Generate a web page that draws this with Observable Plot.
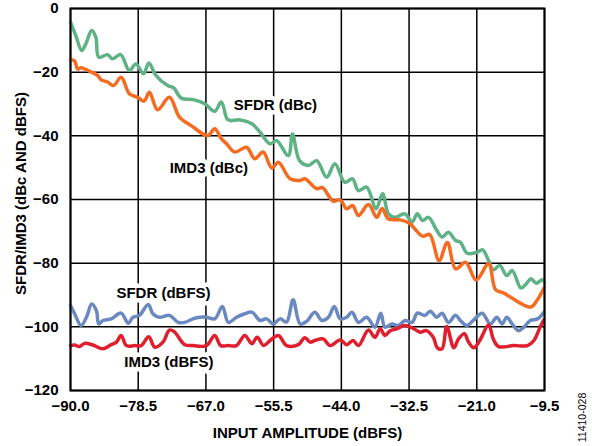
<!DOCTYPE html>
<html>
<head>
<meta charset="utf-8">
<script src="https://cdn.jsdelivr.net/npm/d3@7"></script>
<script src="https://cdn.jsdelivr.net/npm/@observablehq/plot@0.6"></script>
<style>
  html, body { margin: 0; padding: 0; background: #fff; }
</style>
</head>
<body>
<div id="chart"></div>
<script>
const xTicks = [-90, -78.5, -67, -55.5, -44, -32.5, -21, -9.5];
const yTicks = [-120, -100, -80, -60, -40, -20, 0];

const sfdrDbcX = [-90,-89.1,-88.1,-87.4,-86.4,-85.7,-85.2,-83.7,-82.9,-81.5,-80,-78.9,-77.6,-76.7,-75.5,-73.5,-72.5,-71.2,-69,-67.2,-65.5,-64.4,-63.4,-62.9,-61.2,-59.2,-57.8,-56.1,-55,-53,-52.3,-51.1,-49.6,-48.2,-46.5,-45.1,-43.4,-42.1,-41.1,-39.7,-38.1,-37,-36,-34.9,-33.2,-32,-31.1,-30.2,-29.2,-27.8,-26.9,-25.8,-24.6,-23.8,-22.6,-21,-20,-19,-18.2,-17.1,-15.9,-15,-13.5,-12.6,-11.8,-10.9,-9.9,-9.5];
const sfdrDbcY = [-4.3,-8.5,-13.2,-11.1,-6.9,-9,-15.3,-14.5,-15.8,-14.5,-19.5,-17.4,-20.5,-17.1,-21,-24.2,-24.9,-28.1,-28.7,-29.9,-32.3,-29.4,-34.7,-35.2,-35,-36.2,-38.9,-42.5,-41.5,-46.2,-39.4,-47.8,-49.3,-47.8,-53,-48.8,-54.6,-53.5,-57.2,-56.1,-62.9,-58.2,-64.5,-65.6,-64.5,-67.1,-64.5,-66.6,-65.6,-69.7,-71.8,-70.3,-72.9,-73.4,-76.9,-76.6,-75.8,-79.2,-82.1,-80.7,-83.9,-82.3,-87.8,-86.5,-84.9,-86.3,-85.2,-86];

const imd3DbcX = [-90,-89.3,-88.8,-88.2,-86.8,-85.4,-84.8,-83.7,-82.7,-81.4,-80,-78.6,-77.5,-76.6,-75.2,-73.2,-71.5,-69.5,-66.7,-65.5,-64.4,-63.5,-62.1,-60.1,-58.7,-57.3,-55.8,-54.7,-52.7,-51,-50.2,-48.2,-47.2,-45.4,-44.2,-43.1,-42.1,-41.1,-39.4,-38,-37.1,-36,-34,-32.5,-30.2,-29,-27.4,-26,-24.6,-22.9,-21.1,-19,-17.8,-16.4,-11.9,-10.7,-9.6];
const imd3DbcY = [-16.1,-16.5,-19,-18.6,-19.7,-21,-22.4,-23.1,-24.2,-21.6,-26.8,-27.9,-29.1,-26.3,-31.8,-27.9,-34.1,-36.8,-39.9,-37.8,-40.9,-42.5,-45.1,-43.6,-47.2,-45.1,-50.1,-48.3,-53.5,-54,-53.5,-56.6,-56.3,-60.5,-60.1,-62.9,-61.9,-65,-61.6,-65.6,-62.8,-66.1,-66.4,-67.4,-71.5,-71,-79.2,-73.5,-81.8,-79.7,-85.3,-80.2,-88.3,-89.4,-93.8,-91.5,-87.9];

const sfdrDbfsX = [-90,-89.3,-88.2,-87.3,-86.4,-85.6,-85.2,-84.5,-83.1,-81.4,-80.2,-79.4,-78.3,-76.8,-76,-74.9,-73.2,-71.7,-70.6,-69.2,-68,-66.9,-65.5,-64.2,-63.2,-61.8,-60.4,-59.2,-57.8,-56.7,-55.6,-54.4,-53.3,-52.2,-51,-49.9,-48.5,-47.3,-46.2,-45.2,-44.2,-43.1,-42.2,-41.1,-39.7,-38.3,-37.3,-36.6,-35.4,-34.3,-33.2,-32,-31.1,-29.8,-28.9,-27.8,-26.9,-25.8,-24.6,-23.8,-22.7,-21.6,-20.1,-18.7,-17.6,-16.7,-15.9,-15,-13.9,-13,-11.9,-10.7,-9.6];
const sfdrDbfsY = [-93.3,-95.9,-99.6,-97,-92.8,-94.9,-99.1,-98,-97.5,-95.7,-98.9,-97,-96.4,-93,-95.9,-97,-96.4,-98.6,-98.6,-97.5,-97,-97,-97.5,-93.6,-98.6,-97,-95.9,-95.4,-98,-97.5,-99.1,-97.5,-98.5,-91.5,-99.1,-98.3,-95.4,-98,-97,-93.6,-97.5,-97,-95.4,-98.6,-97,-100.1,-95.7,-100.1,-99.1,-99.6,-98,-98.6,-95.7,-96.4,-95.1,-97,-95.7,-98.6,-96.4,-98,-99.6,-98,-95.7,-99.1,-97,-99.1,-97,-99.1,-101.2,-100.1,-98,-97.5,-95.4];

const imd3DbfsX = [-90,-89.3,-88.5,-87.6,-86.2,-84.5,-83.1,-82.2,-81.4,-80.5,-79.1,-78,-76.7,-75.7,-74.3,-73.2,-72.4,-70.6,-69.2,-66.9,-65.5,-64.5,-63.2,-61.8,-60.4,-59.2,-58.3,-57.2,-56.1,-54.7,-53.3,-51.3,-50.2,-49.3,-48.5,-47.1,-45.9,-44.2,-43.1,-42,-41.1,-39.4,-38.3,-37.4,-36.6,-35.7,-34.6,-33.2,-31.7,-30.6,-29.6,-28.4,-27.7,-26.9,-26.1,-24.9,-24.1,-23.1,-22.4,-21.5,-20.5,-19,-18.2,-17.3,-14.7,-12.4,-11.3,-10.2,-9.6];
const imd3DbfsY = [-105.9,-105.7,-106.2,-105.2,-105.7,-106.9,-105.6,-104.8,-102.7,-105.9,-105.9,-105.9,-103.1,-106.4,-104.8,-101,-101.5,-105.6,-105.9,-105.9,-102.7,-105.9,-105.9,-105.9,-102.7,-105.3,-103.3,-105.9,-104.3,-102.7,-105.9,-105.6,-103.4,-104.8,-104.3,-103.8,-105.9,-104.1,-105.6,-104.3,-105.9,-101,-103.3,-100.6,-102.7,-101.2,-100.6,-99.6,-100.6,-101.7,-101.2,-103.3,-106.6,-106.9,-99.9,-106.6,-103.8,-102.2,-104.8,-106.6,-104.3,-99.4,-103.8,-106.2,-105.9,-105.9,-104.3,-99.9,-97.8];

const seriesNames = ["SFDR (dBc)", "IMD3 (dBc)", "SFDR (dBFS)", "IMD3 (dBFS)"];
const seriesColors = ["#5fb286", "#f36c21", "#6a89c1", "#e01f2e"];
const labelX = [-55.2, -66.5, -74.2, -73.3];
const labelY = [-30.5, -50.3, -89.4, -111.1];

const xLabel = "INPUT AMPLITUDE (dBFS)";
const yLabel = "SFDR/IMD3 (dBc AND dBFS)";
const figureId = "11410-028";

const toRows = (xs, ys) => xs.map((x, i) => ({x, y: ys[i]}));
const series = [
  toRows(sfdrDbcX, sfdrDbcY),
  toRows(imd3DbcX, imd3DbcY),
  toRows(sfdrDbfsX, sfdrDbfsY),
  toRows(imd3DbfsX, imd3DbfsY)
];
const labels = seriesNames.map((t, i) => ({text: t, x: labelX[i], y: labelY[i]}));

const font = "'Liberation Sans', Arial, Helvetica, sans-serif";

const chart = Plot.plot({
  width: 592,
  height: 446,
  marginLeft: 70,
  marginRight: 48,
  marginTop: 8,
  marginBottom: 56,
  style: {fontFamily: font, fontSize: "15px", fontWeight: "bold", color: "black", background: "white"},
  x: {domain: [-90, -9.5], ticks: xTicks, tickFormat: d3.format(".1f"), tickSize: 0, tickPadding: 10, label: null},
  y: {domain: [-120, 0], ticks: yTicks, tickFormat: d3.format("d"), tickSize: 0, tickPadding: 12, label: null},
  marks: [
    Plot.ruleX(xTicks, {stroke: "black", strokeWidth: 1.5}),
    Plot.ruleY(yTicks, {stroke: "black", strokeWidth: 1.5}),
    ...series.map((rows, i) => Plot.line(rows, {x: "x", y: "y", stroke: seriesColors[i], strokeWidth: 3.5, curve: "catmull-rom"})),
    Plot.text(labels, {x: "x", y: "y", text: "text", fill: "black", stroke: "white", strokeWidth: 9, fontSize: 15, fontWeight: "bold"}),
    Plot.frame({stroke: "black", strokeWidth: 2}),
    Plot.text([xLabel], {text: d => d, frameAnchor: "bottom", dy: 43, textAnchor: "middle", lineAnchor: "middle", fontSize: 15, fontWeight: "bold", fill: "black"}),
    Plot.text([yLabel], {text: d => d, frameAnchor: "left", dx: -49, dy: -6, rotate: -90, textAnchor: "middle", lineAnchor: "middle", fontSize: 15, fontWeight: "bold", fill: "black"}),
    Plot.text([figureId], {text: d => d, frameAnchor: "bottom-right", dx: 38, dy: 27, rotate: -90, textAnchor: "middle", lineAnchor: "middle", fontSize: 10.5, fontWeight: "normal", fill: "black"})
  ]
});
document.getElementById("chart").appendChild(chart);
</script>
</body>
</html>
